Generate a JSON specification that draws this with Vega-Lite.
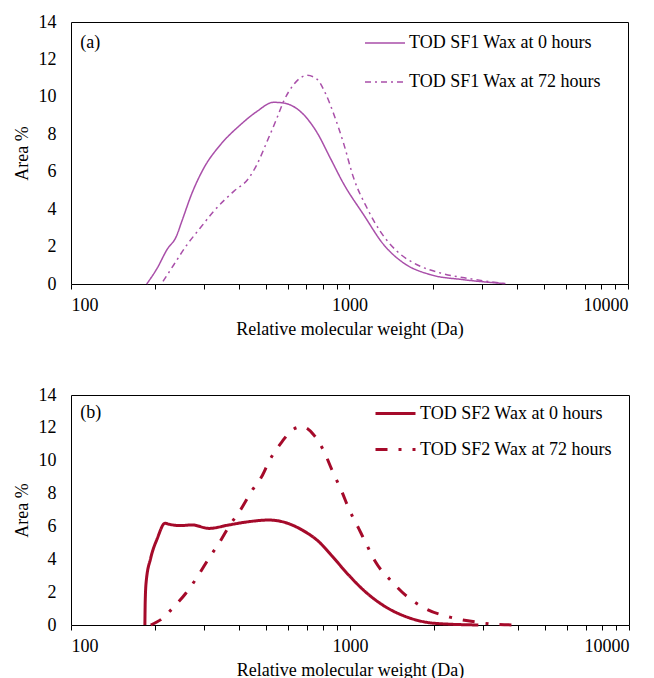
{
  "$schema": "https://vega.github.io/schema/vega-lite/v6.json",
  "background": "white",
  "padding": {"left": 12, "top": 12, "right": 2, "bottom": 0},
  "config": {
    "font": "Liberation Serif",
    "view": {"stroke": "black", "strokeWidth": 1},
    "axis": {"labelFont": "Liberation Serif", "titleFont": "Liberation Serif", "labelFontSize": 18, "titleFontSize": 18, "labelColor": "black", "titleColor": "black", "titleFontWeight": "normal", "grid": false, "domainColor": "black", "tickColor": "black", "labelOverlap": false},
    "axisX": {"values": [100, 200, 300, 400, 500, 600, 700, 800, 900, 1000, 2000, 3000, 4000, 5000, 6000, 7000, 8000, 9000, 10000], "labelExpr": "datum.value == 100 || datum.value == 1000 || datum.value == 10000 ? datum.value : ''", "tickSize": 5, "labelPadding": 7, "titlePadding": 6, "domain": false},
    "axisY": {"values": [0, 2, 4, 6, 8, 10, 12, 14], "ticks": false, "labelPadding": 15, "titlePadding": 7, "domain": false},
    "legend": {"labelFont": "Liberation Serif", "labelFontSize": 18, "labelColor": "black", "labelLimit": 0},
    "text": {"font": "Liberation Serif"}
  },
  "spacing": 46,
  "datasets": {
    "a": [
      {"mw": 187, "area": 0, "series": "TOD SF1 Wax at 0 hours"},
      {"mw": 204, "area": 0.85, "series": "TOD SF1 Wax at 0 hours"},
      {"mw": 221, "area": 1.83, "series": "TOD SF1 Wax at 0 hours"},
      {"mw": 239, "area": 2.55, "series": "TOD SF1 Wax at 0 hours"},
      {"mw": 250, "area": 3.35, "series": "TOD SF1 Wax at 0 hours"},
      {"mw": 272, "area": 4.86, "series": "TOD SF1 Wax at 0 hours"},
      {"mw": 300, "area": 6.2, "series": "TOD SF1 Wax at 0 hours"},
      {"mw": 344, "area": 7.44, "series": "TOD SF1 Wax at 0 hours"},
      {"mw": 406, "area": 8.51, "series": "TOD SF1 Wax at 0 hours"},
      {"mw": 465, "area": 9.22, "series": "TOD SF1 Wax at 0 hours"},
      {"mw": 534, "area": 9.71, "series": "TOD SF1 Wax at 0 hours"},
      {"mw": 580, "area": 9.67, "series": "TOD SF1 Wax at 0 hours"},
      {"mw": 666, "area": 9.22, "series": "TOD SF1 Wax at 0 hours"},
      {"mw": 764, "area": 8.1, "series": "TOD SF1 Wax at 0 hours"},
      {"mw": 853, "area": 6.73, "series": "TOD SF1 Wax at 0 hours"},
      {"mw": 953, "area": 5.35, "series": "TOD SF1 Wax at 0 hours"},
      {"mw": 1124, "area": 3.7, "series": "TOD SF1 Wax at 0 hours"},
      {"mw": 1327, "area": 2.1, "series": "TOD SF1 Wax at 0 hours"},
      {"mw": 1565, "area": 1.12, "series": "TOD SF1 Wax at 0 hours"},
      {"mw": 1951, "area": 0.5, "series": "TOD SF1 Wax at 0 hours"},
      {"mw": 2570, "area": 0.23, "series": "TOD SF1 Wax at 0 hours"},
      {"mw": 3630, "area": 0.02, "series": "TOD SF1 Wax at 0 hours"},
      {"mw": 214, "area": 0.14, "series": "TOD SF1 Wax at 72 hours"},
      {"mw": 234, "area": 1.03, "series": "TOD SF1 Wax at 72 hours"},
      {"mw": 261, "area": 2.1, "series": "TOD SF1 Wax at 72 hours"},
      {"mw": 291, "area": 2.99, "series": "TOD SF1 Wax at 72 hours"},
      {"mw": 325, "area": 3.88, "series": "TOD SF1 Wax at 72 hours"},
      {"mw": 384, "area": 4.95, "series": "TOD SF1 Wax at 72 hours"},
      {"mw": 435, "area": 5.66, "series": "TOD SF1 Wax at 72 hours"},
      {"mw": 465, "area": 6.38, "series": "TOD SF1 Wax at 72 hours"},
      {"mw": 506, "area": 7.62, "series": "TOD SF1 Wax at 72 hours"},
      {"mw": 549, "area": 8.87, "series": "TOD SF1 Wax at 72 hours"},
      {"mw": 580, "area": 9.76, "series": "TOD SF1 Wax at 72 hours"},
      {"mw": 630, "area": 10.65, "series": "TOD SF1 Wax at 72 hours"},
      {"mw": 704, "area": 11.15, "series": "TOD SF1 Wax at 72 hours"},
      {"mw": 764, "area": 10.95, "series": "TOD SF1 Wax at 72 hours"},
      {"mw": 819, "area": 10.2, "series": "TOD SF1 Wax at 72 hours"},
      {"mw": 877, "area": 9.1, "series": "TOD SF1 Wax at 72 hours"},
      {"mw": 953, "area": 7.5, "series": "TOD SF1 Wax at 72 hours"},
      {"mw": 1035, "area": 5.66, "series": "TOD SF1 Wax at 72 hours"},
      {"mw": 1156, "area": 4.06, "series": "TOD SF1 Wax at 72 hours"},
      {"mw": 1290, "area": 2.81, "series": "TOD SF1 Wax at 72 hours"},
      {"mw": 1481, "area": 1.75, "series": "TOD SF1 Wax at 72 hours"},
      {"mw": 1748, "area": 1.03, "series": "TOD SF1 Wax at 72 hours"},
      {"mw": 2120, "area": 0.59, "series": "TOD SF1 Wax at 72 hours"},
      {"mw": 2716, "area": 0.28, "series": "TOD SF1 Wax at 72 hours"},
      {"mw": 3630, "area": 0.02, "series": "TOD SF1 Wax at 72 hours"}
    ],
    "b": [
      {"mw": 184, "area": 0, "series": "TOD SF2 Wax at 0 hours"},
      {"mw": 184.5, "area": 1.42, "series": "TOD SF2 Wax at 0 hours"},
      {"mw": 186, "area": 2.64, "series": "TOD SF2 Wax at 0 hours"},
      {"mw": 193, "area": 4.06, "series": "TOD SF2 Wax at 0 hours"},
      {"mw": 204, "area": 5.28, "series": "TOD SF2 Wax at 0 hours"},
      {"mw": 217, "area": 6.19, "series": "TOD SF2 Wax at 0 hours"},
      {"mw": 225, "area": 6.13, "series": "TOD SF2 Wax at 0 hours"},
      {"mw": 244, "area": 6.05, "series": "TOD SF2 Wax at 0 hours"},
      {"mw": 272, "area": 6.09, "series": "TOD SF2 Wax at 0 hours"},
      {"mw": 312, "area": 5.88, "series": "TOD SF2 Wax at 0 hours"},
      {"mw": 368, "area": 6.09, "series": "TOD SF2 Wax at 0 hours"},
      {"mw": 434, "area": 6.29, "series": "TOD SF2 Wax at 0 hours"},
      {"mw": 512, "area": 6.39, "series": "TOD SF2 Wax at 0 hours"},
      {"mw": 571, "area": 6.29, "series": "TOD SF2 Wax at 0 hours"},
      {"mw": 674, "area": 5.78, "series": "TOD SF2 Wax at 0 hours"},
      {"mw": 773, "area": 5.07, "series": "TOD SF2 Wax at 0 hours"},
      {"mw": 862, "area": 4.2, "series": "TOD SF2 Wax at 0 hours"},
      {"mw": 989, "area": 3.04, "series": "TOD SF2 Wax at 0 hours"},
      {"mw": 1134, "area": 2.03, "series": "TOD SF2 Wax at 0 hours"},
      {"mw": 1337, "area": 1.12, "series": "TOD SF2 Wax at 0 hours"},
      {"mw": 1621, "area": 0.45, "series": "TOD SF2 Wax at 0 hours"},
      {"mw": 2019, "area": 0.1, "series": "TOD SF2 Wax at 0 hours"},
      {"mw": 2884, "area": 0, "series": "TOD SF2 Wax at 0 hours"},
      {"mw": 193, "area": 0, "series": "TOD SF2 Wax at 72 hours"},
      {"mw": 213, "area": 0.41, "series": "TOD SF2 Wax at 72 hours"},
      {"mw": 231, "area": 1.01, "series": "TOD SF2 Wax at 72 hours"},
      {"mw": 258, "area": 1.93, "series": "TOD SF2 Wax at 72 hours"},
      {"mw": 284, "area": 2.94, "series": "TOD SF2 Wax at 72 hours"},
      {"mw": 312, "area": 4.06, "series": "TOD SF2 Wax at 72 hours"},
      {"mw": 339, "area": 4.97, "series": "TOD SF2 Wax at 72 hours"},
      {"mw": 368, "area": 5.99, "series": "TOD SF2 Wax at 72 hours"},
      {"mw": 405, "area": 7.0, "series": "TOD SF2 Wax at 72 hours"},
      {"mw": 446, "area": 8.2, "series": "TOD SF2 Wax at 72 hours"},
      {"mw": 485, "area": 9.1, "series": "TOD SF2 Wax at 72 hours"},
      {"mw": 512, "area": 9.94, "series": "TOD SF2 Wax at 72 hours"},
      {"mw": 571, "area": 11.16, "series": "TOD SF2 Wax at 72 hours"},
      {"mw": 620, "area": 11.87, "series": "TOD SF2 Wax at 72 hours"},
      {"mw": 674, "area": 12.07, "series": "TOD SF2 Wax at 72 hours"},
      {"mw": 742, "area": 11.57, "series": "TOD SF2 Wax at 72 hours"},
      {"mw": 805, "area": 10.6, "series": "TOD SF2 Wax at 72 hours"},
      {"mw": 862, "area": 9.43, "series": "TOD SF2 Wax at 72 hours"},
      {"mw": 936, "area": 8.1, "series": "TOD SF2 Wax at 72 hours"},
      {"mw": 989, "area": 7.1, "series": "TOD SF2 Wax at 72 hours"},
      {"mw": 1074, "area": 5.88, "series": "TOD SF2 Wax at 72 hours"},
      {"mw": 1134, "area": 5.07, "series": "TOD SF2 Wax at 72 hours"},
      {"mw": 1232, "area": 3.86, "series": "TOD SF2 Wax at 72 hours"},
      {"mw": 1413, "area": 2.64, "series": "TOD SF2 Wax at 72 hours"},
      {"mw": 1577, "area": 1.83, "series": "TOD SF2 Wax at 72 hours"},
      {"mw": 1859, "area": 1.01, "series": "TOD SF2 Wax at 72 hours"},
      {"mw": 2315, "area": 0.45, "series": "TOD SF2 Wax at 72 hours"},
      {"mw": 2884, "area": 0.16, "series": "TOD SF2 Wax at 72 hours"},
      {"mw": 3310, "area": 0.04, "series": "TOD SF2 Wax at 72 hours"},
      {"mw": 4010, "area": 0, "series": "TOD SF2 Wax at 72 hours"}
    ]
  },
  "resolve": {"scale": {"color": "independent", "strokeDash": "independent"}},
  "vconcat": [
    {
      "width": 557,
      "height": 262,
      "layer": [
        {
          "data": {"name": "a"},
          "mark": {"type": "line", "interpolate": "monotone", "strokeWidth": 1.5},
          "encoding": {
            "x": {"field": "mw", "type": "quantitative", "scale": {"type": "log", "domain": [100, 10000], "nice": false}, "title": "Relative molecular weight (Da)"},
            "y": {"field": "area", "type": "quantitative", "scale": {"domain": [0, 14], "nice": false}, "title": "Area %"},
            "color": {"field": "series", "type": "nominal", "scale": {"range": ["#A94FA9", "#A94FA9"]},
              "legend": {"title": null, "orient": "none", "legendX": 293, "legendY": 0, "symbolType": "stroke", "symbolSize": 1600, "symbolStrokeWidth": 1.5, "rowPadding": 9, "labelOffset": 3, "padding": 0}},
            "strokeDash": {"field": "series", "type": "nominal", "scale": {"range": [[1, 0], [6, 4, 2, 4]]}, "legend": null}
          }
        },
        {
          "data": {"values": [{"label": "(a)"}]},
          "mark": {"type": "text", "align": "left", "baseline": "middle", "fontSize": 18, "font": "Liberation Serif", "color": "black"},
          "encoding": {"x": {"datum": 108, "type": "quantitative"}, "y": {"datum": 12.9, "type": "quantitative"}, "text": {"field": "label"}}
        }
      ]
    },
    {
      "width": 558,
      "height": 230,
      "layer": [
        {
          "data": {"name": "b"},
          "mark": {"type": "line", "interpolate": "monotone", "strokeWidth": 3},
          "encoding": {
            "x": {"field": "mw", "type": "quantitative", "scale": {"type": "log", "domain": [100, 10000], "nice": false}, "title": "Relative molecular weight (Da)"},
            "y": {"field": "area", "type": "quantitative", "scale": {"domain": [0, 14], "nice": false}, "title": "Area %"},
            "color": {"field": "series", "type": "nominal", "scale": {"range": ["#A50A2A", "#A50A2A"]},
              "legend": {"title": null, "orient": "none", "legendX": 303, "legendY": -3, "symbolType": "stroke", "symbolSize": 1600, "symbolStrokeWidth": 3, "rowPadding": 5, "labelOffset": 3, "padding": 0}},
            "strokeDash": {"field": "series", "type": "nominal", "scale": {"range": [[1, 0], [12, 11, 3, 11]]}, "legend": null}
          }
        },
        {
          "data": {"values": [{"label": "(b)"}]},
          "mark": {"type": "text", "align": "left", "baseline": "middle", "fontSize": 18, "font": "Liberation Serif", "color": "black"},
          "encoding": {"x": {"datum": 108, "type": "quantitative"}, "y": {"datum": 12.9, "type": "quantitative"}, "text": {"field": "label"}}
        }
      ]
    }
  ]
}
